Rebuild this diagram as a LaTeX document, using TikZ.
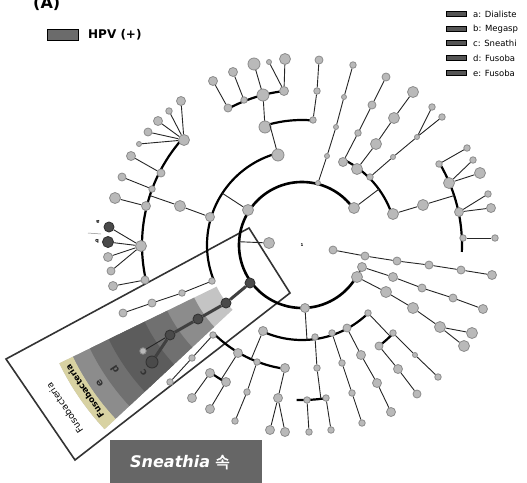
\documentclass[tikz,border=0pt]{standalone}
\usepackage{fontspec}
\setmainfont{DejaVu Sans}
\newfontfamily\krfont[FakeBold=1.5]{Noto Sans CJK KR}
\usetikzlibrary{calc}
\definecolor{nodefill}{HTML}{B9B9B9}
\definecolor{nodeedge}{HTML}{8C8C8C}
\definecolor{darknode}{HTML}{4A4A4A}
\definecolor{legdark}{HTML}{555555}
\definecolor{hpvbox}{HTML}{6B6B6B}
\definecolor{sneathbox}{HTML}{666666}
\definecolor{bandA}{HTML}{C4C4C4}
\definecolor{bandB}{HTML}{8C8C8C}
\definecolor{bandC}{HTML}{707070}
\definecolor{bandD}{HTML}{5C5C5C}
\definecolor{bandY}{HTML}{D8D2A2}
\tikzset{
 lf/.style={circle, fill=nodefill, draw=nodeedge, line width=0.8pt, inner sep=0pt},
 sA/.style={lf, minimum size=5pt},
 sB/.style={lf, minimum size=6.5pt},
 sC/.style={lf, minimum size=8pt},
 sD/.style={lf, minimum size=9pt},
 sE/.style={lf, minimum size=11pt},
 sF/.style={lf, minimum size=12pt},
 dk/.style={circle, fill=darknode, draw=black!80, line width=0.9pt, inner sep=0pt, minimum size=#1},
 dk/.default=10pt,
 edge/.style={line width=0.9pt, draw=black!85},
 arcl/.style={line width=2.2pt, draw=black},
 chainl/.style={line width=3pt, draw=black!75},
 lgbox/.style={draw=black, line width=0.8pt, fill=legdark},
 lgtext/.style={anchor=west, font=\fontsize{8.5}{9}\selectfont, inner sep=0pt},
 wedgetext/.style={rotate=124, inner sep=0pt},
}
\newcommand\cladearc[4][arcl]{\draw[#1] ([shift={(#3:#2pt)}]C) arc[start angle=#3, end angle=#4, radius=#2pt];}
\newcommand\toarc[3]{\draw[edge] (#1) -- ([shift={(#2:#3pt)}]C);}
\newcommand\wedgeband[3]{\fill[#3] ([shift={(206:#1pt)}]C) arc[start angle=206, end angle=223, radius=#1pt] -- ([shift={(223:#2pt)}]C) arc[start angle=223, end angle=206, radius=#2pt] -- cycle;}
\begin{document}
\begin{tikzpicture}[x=1pt,y=-1pt]
\useasboundingbox (0,0) rectangle (527,482);
\clip (0,0) rectangle (527,482);
\fill[white] (0,0) rectangle (527,482);
\coordinate (C) at (302,245);

% ---- highlighted wedge (Fusobacteria clade)
\wedgeband{95}{270}{bandA}
\wedgeband{120}{255}{bandB}
\wedgeband{150}{236}{bandC}
\wedgeband{175}{215}{bandD}
\wedgeband{255}{270}{bandY}
\node[wedgetext, font=\fontsize{10}{10}\selectfont\bfseries, text=black!80] at ([shift={(218.8:203pt)}]C) {c};
\node[wedgetext, font=\fontsize{10}{10}\selectfont\bfseries, text=black!80] at ([shift={(213.7:225pt)}]C) {d};
\node[wedgetext, font=\fontsize{10}{10}\selectfont\bfseries, text=black!80] at ([shift={(214.3:245pt)}]C) {e};
\node[wedgetext, font=\fontsize{8.5}{8.5}\selectfont\bfseries] at ([shift={(214:262pt)}]C) {Fusobacteria};
\node[wedgetext, font=\fontsize{9}{9}\selectfont] at ([shift={(214.5:288pt)}]C) {Fusobacteria};

% ---- frame around the clade
\draw[line width=1.6pt, draw=black!80] (6,359) -- (249,228) -- (290,293) -- (75,460) -- cycle;

% ---- arcs
\cladearc[line width=2.6pt, draw=black]{63}{36}{331}
\cladearc{95}{19}{64}
\cladearc{95}{105}{202}
\cladearc{95}{246}{314}
\cladearc{125}{85}{107}
\cladearc{155}{97}{118}
\cladearc{160}{138}{192.6}
\cladearc{160}{-2.5}{30.6}
\cladearc{125}{225}{262}
\cladearc{157}{234}{241}
\cladearc{155}{268}{279}
\cladearc{127}{307}{316}

% ---- centre label
\node[font=\fontsize{4}{4}\selectfont\bfseries, inner sep=0pt] (root) at (302,245) {1};

% ---- inner nodes
\node[sE] (P1) at (269,243) {};
\node[sC] (P2) at (333,250) {};
\node[sE] (A) at (354,208) {};
\node[sA] (B) at (318,183) {};
\node[sE] (D) at (248,210) {};
\node[dk] (E) at (250,283) {};
\node[sD] (F) at (305,308) {};
\node[sE] (G) at (357,277) {};
\node[sD] (G2) at (362,267) {};

% B chain
\node[sA] (b1) at (327,156) {};
\node[sA] (b2) at (336,127) {};
\node[sA] (b3) at (344,97) {};
\node[sB] (b4) at (353,65) {};

% A subtree
\node[sD] (a1) at (343,162) {};
\node[sE] (a2) at (357,169) {};
\node[sB] (a3) at (370,177) {};
\node[sE] (a4) at (393,214) {};
\node[sB] (a11) at (358,133) {};
\node[sC] (a12) at (372,105) {};
\node[sC] (a13) at (386,77) {};
\node[sE] (a21) at (376,144) {};
\node[sE] (a22) at (394,118) {};
\node[sE] (a23) at (413,92) {};
\node[sA] (a31) at (393,157) {};
\node[sA] (a32) at (417,137) {};
\node[sB] (a33) at (432,107) {};
\node[sB] (a34) at (442,117) {};
\node[sE] (a41) at (423,205) {};
\node[sB] (a42) at (439,164) {};
\node[sE] (a43) at (449,183) {};
\node[sD] (a44) at (459,212) {};
\node[sB] (a45) at (463,238) {};
\node[sB] (a421) at (467,148) {};
\node[sB] (a431) at (473,160) {};
\node[sE] (a432) at (480,173) {};
\node[sB] (a441) at (488,194) {};
\node[sD] (a442) at (491,208) {};
\node[sB] (a451) at (495,238) {};

% P2 chain
\node[sC] (p1) at (365,256) {};
\node[sC] (p2) at (397,261) {};
\node[sC] (p3) at (429,265) {};
\node[sC] (p4) at (461,270) {};
\node[sD] (p5) at (492,275) {};

% G chains
\node[sD] (g1) at (393,277) {};
\node[sC] (g2) at (422,288) {};
\node[sC] (g3) at (453,298) {};
\node[sD] (g4) at (483,309) {};
\node[sE] (h1) at (386,292) {};
\node[sE] (h2) at (413,308) {};
\node[sE] (h3) at (440,327) {};
\node[sE] (h4) at (472,333) {};
\node[sE] (h5) at (464,346) {};

% F subtree
\node[sD] (f1) at (263,331) {};
\node[sB] (f2) at (315,337) {};
\node[sB] (f3) at (332,333) {};
\node[sC] (f4) at (347,328) {};
\node[sB] (f5) at (368,313) {};
\node[sB] (f11) at (213,335) {};
\node[sD] (f12) at (238,353) {};
\node[sB] (f13) at (257,362) {};
\node[sD] (f14) at (285,368) {};
\node[sB] (f111) at (192,358) {};
\node[sB] (f112) at (170,382) {};
\node[sD] (f121) at (210,373) {};
\node[sD] (f122) at (226,382) {};
\node[sD] (f1211) at (192,398) {};
\node[sD] (f1221) at (210,409) {};
\node[sB] (f131) at (247,392) {};
\node[sB] (f132) at (235,421) {};
\node[sD] (f141) at (278,398) {};
\node[sD] (f142) at (270,430) {};
\node[sD] (f143) at (285,432) {};
\node[sB] (f21) at (317,368) {};
\node[sB] (f22) at (307,400) {};
\node[sB] (f23) at (326,398) {};
\node[sB] (f221) at (309,432) {};
\node[sB] (f231) at (331,430) {};
\node[sB] (f31) at (342,363) {};
\node[sB] (f32) at (352,393) {};
\node[sB] (f33) at (362,423) {};
\node[sD] (f41) at (361,355) {};
\node[sD] (f42) at (377,383) {};
\node[sD] (f43) at (391,412) {};
\node[sC] (f51) at (379,346) {};
\node[sB] (f52) at (393,333) {};
\node[sA] (f521) at (415,355) {};
\node[sB] (f522) at (438,377) {};
\node[sD] (f511) at (398,369) {};
\node[sC] (f512) at (417,394) {};

% D subtree
\node[sF] (d1) at (278,155) {};
\node[sD] (d2) at (210,217) {};
\node[sB] (d3) at (212,281) {};
\node[sF] (d11) at (265,127) {};
\node[sB] (d12) at (313,120) {};
\node[sB] (d121) at (317,91) {};
\node[sC] (d122) at (319,60) {};
\node[sF] (d111) at (263,95) {};
\node[sC] (d112) at (228,108) {};
\node[sB] (d113) at (244,100) {};
\node[sD] (d114) at (284,91) {};
\node[sD] (d1121) at (213,81) {};
\node[sD] (d1131) at (233,72) {};
\node[sF] (d1111) at (254,64) {};
\node[sA] (d1141) at (269,62) {};
\node[sE] (d1142) at (285,59) {};
\node[sE] (d21) at (180,206) {};
\node[sE] (d211) at (184,140) {};
\node[sC] (d212) at (161,173) {};
\node[sB] (d213) at (152,189) {};
\node[sD] (d214) at (146,206) {};
\node[sE] (d215) at (141,246) {};
\node[sC] (d216) at (145,280) {};
\node[sD] (l1) at (181,101) {};
\node[sB] (l2) at (169,111) {};
\node[sD] (l3) at (158,121) {};
\node[sC] (l4) at (148,132) {};
\node[sA] (l5) at (139,144) {};
\node[sD] (d2121) at (131,156) {};
\node[sC] (d2131) at (122,177) {};
\node[sE] (d2141) at (115,198) {};
\node[dk] (dkA) at (109,227) {};
\node[dk=11pt] (dkB) at (108,242) {};
\node[sD] (d2153) at (108,257) {};
\node[sC] (d2154) at (111,271) {};
\node[sD] (d2161) at (113,286) {};
\node[sB] (d31) at (182,293) {};
\node[sC] (d32) at (152,303) {};
\node[sC] (d33) at (123,313) {};

% E (Sneathia) chain
\node[dk] (e1) at (226,303) {};
\node[dk] (e2) at (198,319) {};
\node[dk] (e3) at (170,335) {};
\node[sB] (e5) at (143,351) {};
\node[dk=12pt] (e4) at (152,362) {};

% ---- edges
\toarc{P1}{177}{63}
\toarc{A}{36}{95}
\toarc{D}{147}{95}
\toarc{F}{273}{95}
\draw[edge] (B) -- (b1) -- (b2) -- (b3) -- (b4);
\draw[edge] (a1) -- (a11) -- (a12) -- (a13);
\draw[edge] (a2) -- (a21) -- (a22) -- (a23);
\draw[edge] (a3) -- (a31) -- (a32) -- (a33);
\draw[edge] (a32) -- (a34);
\draw[edge] (a4) -- (a41);
\toarc{a41}{18}{160}
\draw[edge] (a42) -- (a421);
\draw[edge] (a43) -- (a431);
\draw[edge] (a43) -- (a432);
\draw[edge] (a44) -- (a441);
\draw[edge] (a44) -- (a442);
\draw[edge] (a45) -- (a451);
\draw[edge] (P2) -- (p1) -- (p2) -- (p3) -- (p4) -- (p5);
\draw[arcl] (G) -- (G2);
\draw[edge] (G2) -- (g1) -- (g2) -- (g3) -- (g4);
\draw[edge] (G) -- (h1) -- (h2) -- (h3) -- (h4);
\draw[edge] (h3) -- (h5);
\toarc{f1}{246}{125}
\draw[edge] (f11) -- (f111) -- (f112);
\toarc{f12}{239}{157}
\draw[edge] (f121) -- (f1211);
\draw[edge] (f122) -- (f1221);
\draw[edge] (f13) -- (f131) -- (f132);
\draw[edge] (f14) -- (f141) -- (f142);
\draw[edge] (f141) -- (f143);
\draw[edge] (f2) -- (f21);
\toarc{f21}{277}{155}
\draw[edge] (f22) -- (f221);
\draw[edge] (f23) -- (f231);
\draw[edge] (f3) -- (f31) -- (f32) -- (f33);
\draw[edge] (f4) -- (f41) -- (f42) -- (f43);
\toarc{f5}{314}{127}
\draw[edge] (f52) -- (f521) -- (f522);
\draw[edge] (f51) -- (f511) -- (f512);
\toarc{d1}{105}{125}
\draw[edge] (d12) -- (d121) -- (d122);
\draw[edge] (d11) -- (d111);
\draw[edge] (d112) -- (d1121);
\draw[edge] (d113) -- (d1131);
\draw[edge] (d111) -- (d1111);
\draw[edge] (d114) -- (d1141);
\draw[edge] (d114) -- (d1142);
\draw[edge] (d2) -- (d21);
\toarc{d21}{162}{160}
\foreach \lf in {l1,l2,l3,l4,l5} {\draw[edge] (d211) -- (\lf);}
\draw[edge] (d212) -- (d2121);
\draw[edge] (d213) -- (d2131);
\draw[edge] (d214) -- (d2141);
\foreach \lf in {dkA,dkB,d2153,d2154} {\draw[edge] (d215) -- (\lf);}
\draw[edge] (d216) -- (d2161);
\draw[edge] (d3) -- (d31) -- (d32) -- (d33);
\draw[chainl] (E) -- (e1) -- (e2) -- (e3) -- (e4);
\draw[edge] (e3) -- (e5);

% a / b marks
\node[font=\fontsize{5}{5}\selectfont\bfseries, rotate=180, inner sep=0pt] (la) at (98,222) {a};
\node[font=\fontsize{5}{5}\selectfont\bfseries, rotate=180, inner sep=0pt] (lb) at (97,241) {b};
\coordinate (tk1) at (88,233);
\coordinate (tk2) at (101,234);
\draw[line width=0.5pt, draw=black!45] (tk1) -- (tk2);

% ---- legends
\node[font=\bfseries\fontsize{16}{16}\selectfont, anchor=base west, inner sep=0pt] (lbl) at (33,8) {(A)};
\node[lgbox, fill=hpvbox, minimum width=31pt, minimum height=11pt, inner sep=0pt] (hpvb) at (62.5,34.5) {};
\node[font=\bfseries\fontsize{12}{12}\selectfont, anchor=west, inner sep=0pt] (hpvt) at (88,35) {HPV (+)};

\foreach \yy/\tt [count=\i] in {14/{a: Dialiste},29/{b: Megasp},43/{c: Sneathi},58/{d: Fusoba},73/{e: Fusoba}} {
  \node[lgbox, minimum width=20pt, minimum height=5.5pt, inner sep=0pt] (lgb\i) at (456,\yy) {};
  \node[lgtext] (lgt\i) at (473,\yy) {\tt};
}

% ---- Sneathia label
\node[fill=sneathbox, minimum width=152pt, minimum height=46pt, anchor=north west, inner sep=0pt] (sbox) at (110,440) {};
\node[text=white, font=\fontsize{16}{16}\selectfont, anchor=west, inner sep=0pt] (stext) at (130,462) {{\bfseries\itshape Sneathia} {\krfont 속}};
\end{tikzpicture}
\end{document}
